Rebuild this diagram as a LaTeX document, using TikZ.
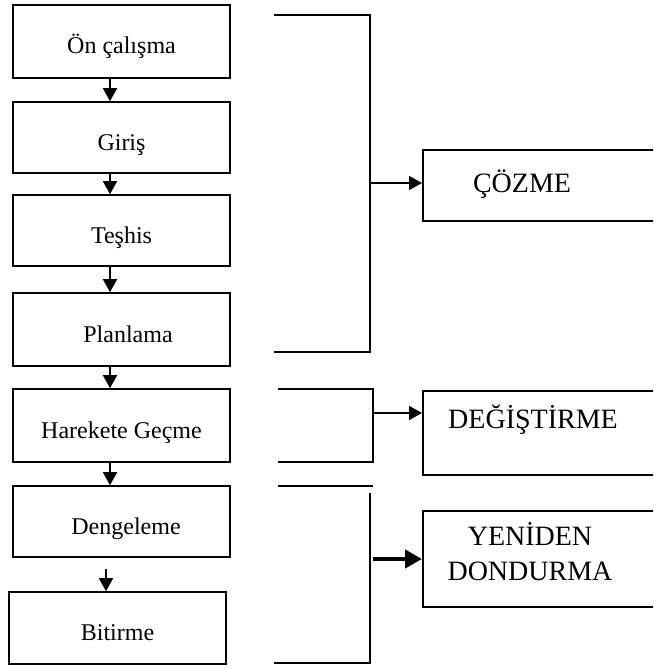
\documentclass[tikz,border=0pt]{standalone}
\usepackage{fontspec}
\setmainfont{Liberation Serif}
\usetikzlibrary{arrows.meta}

\tikzset{
  stepbox/.style={draw, line width=1.6pt, minimum width=217pt, minimum height=72pt,
    text height=25pt, text depth=0pt, inner sep=0pt, font=\fontsize{24}{28}\selectfont},
  sidebox/.style={draw, line width=1.6pt, anchor=north west, minimum width=300pt, inner sep=0pt},
  sidetext/.style={font=\fontsize{28}{35}\selectfont, anchor=base},
  flow/.style={line width=1.6pt, -{Triangle[length=13pt,width=14pt]}},
  bigflow/.style={line width=4.5pt, -{Triangle[length=17pt,width=18pt]}},
  brace/.style={line width=1.6pt},
}

\begin{document}
\begin{tikzpicture}[x=1pt,y=-1pt]
  \useasboundingbox (0,0) rectangle (653,669);
  \clip (0,0) rectangle (653,669);

  % steps
  \node[stepbox, minimum height=73pt] (on) at (121.5,41.5) {Ön çalışma};
  \node[stepbox, minimum height=71pt] (giris) at (121.5,137.5) {Giriş};
  \node[stepbox, minimum height=71pt] (teshis) at (121.5,230.5) {Teşhis};
  \node[stepbox, minimum height=73pt] (plan) at (121.5,329.5) {\hspace{13pt}Planlama};
  \node[stepbox, minimum height=73pt] (hareket) at (121.5,425.5) {Harekete Geçme\hspace{15pt}};
  \node[stepbox, minimum height=71pt] (denge) at (121.5,521.5) {\hspace{9pt}Dengeleme};
  \node[stepbox] (bitir) at (117.5,628) {Bitirme\hspace{27pt}};

  \foreach \a/\b in {on/giris, giris/teshis, teshis/plan, plan/hareket, hareket/denge}
    \draw[flow] ([xshift=-11.5pt]\a.south) -- ([xshift=-11.5pt]\b.north);
  \draw[flow] ([xshift=-15.5pt]denge.south) ++(0,11) -- ([xshift=-11.5pt]bitir.north);

  % phases
  \node[sidebox, minimum height=71pt] (cozme) at (422,149) {};
  \node[sidebox, minimum height=84pt] (degis) at (422,390) {};
  \node[sidebox, minimum height=96pt] (yeni) at (422,510) {};

  \node[sidetext] (cozmet) at (522,192) {ÇÖZME};
  \node[sidetext] (degist) at (533,428) {DEĞİŞTİRME};
  \node[font=\fontsize{28}{35}\selectfont, align=center] (yenit) at (530,552) {YENİDEN\\DONDURMA};

  % brackets
  \coordinate (b1) at (370,183);
  \coordinate (b2) at (373,413);
  \coordinate (b3) at (370,559);
  \draw[brace] (274,15) -- (370,15) -- (370,352) -- (274,352);
  \draw[brace] (278,389) -- (373,389) -- (373,462) -- (278,462);
  \draw[brace] (278,486) -- (373,486);
  \draw[brace] (370,493) -- (370,663) -- (274,663);

  \draw[flow] (b1) -- (b1 -| cozme.west);
  \draw[flow] (b2) -- (b2 -| degis.west);
  \draw[bigflow] ([xshift=3pt]b3) -- (b3 -| yeni.west);
\end{tikzpicture}
\end{document}
